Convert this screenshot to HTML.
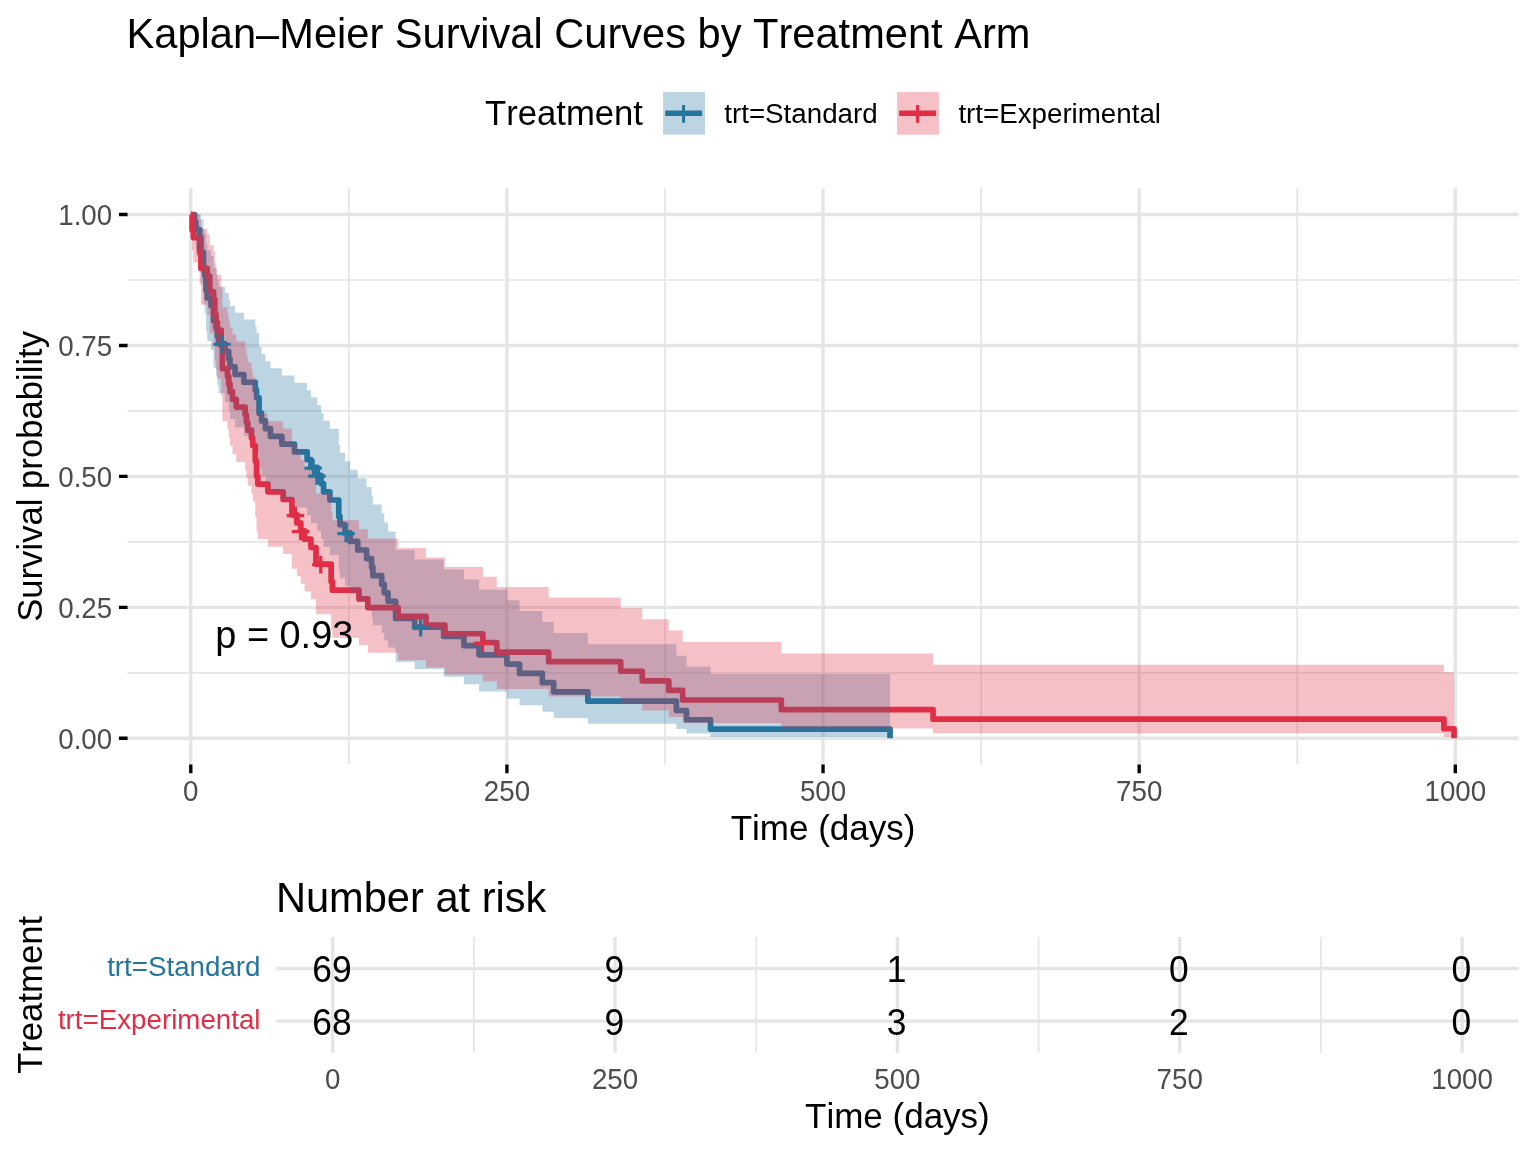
<!DOCTYPE html>
<html lang="en">
<head>
<meta charset="utf-8">
<title>Kaplan–Meier Survival Curves by Treatment Arm</title>
<style>html,body{margin:0;padding:0;background:#fff}body{width:1536px;height:1152px;overflow:hidden}svg{display:block}</style>
</head>
<body>
<svg width="1536" height="1152" viewBox="0 0 1536 1152" font-family='"Liberation Sans", Arial, Helvetica, sans-serif' style="font-kerning:none">
<rect width="1536" height="1152" fill="#fff"/>
<path d="M127.6 672.82H1518.6M127.6 541.88H1518.6M127.6 410.92H1518.6M127.6 279.98H1518.6M348.86 188.3V764.5M664.99 188.3V764.5M981.11 188.3V764.5M1297.24 188.3V764.5" stroke="#E5E5E5" stroke-width="1.68" fill="none"/>
<path d="M127.6 738.3H1518.6M127.6 607.35H1518.6M127.6 476.4H1518.6M127.6 345.45H1518.6M127.6 214.5H1518.6M190.8 188.3V764.5M506.93 188.3V764.5M823.05 188.3V764.5M1139.17 188.3V764.5M1455.3 188.3V764.5" stroke="#E5E5E5" stroke-width="3.36" fill="none"/>
<path d="M190.8 214.5H194.59V222.09H195.86V229.68H199.65V237.27H200.92V252.46H203.45V267.64H204.71V275.23H205.97V290.41H207.24V298H211.03V305.6H213.56V320.78H216.09V328.37H217.35V335.96H218.62V343.55H222.41H224.94V351.29H228.74V359.03H230V366.77H235.06V374.51H243.91V382.25H255.29V389.99H256.55V397.73H259.08V413.21H261.61V420.95H265.41V428.69H270.46V436.43H281.84V444.17H294.49V451.91H307.13V459.65H310.93V467.39H313.46H317.25V475.36H321.04V483.58H323.57V491.8H329.89V500.01H338.75V516.45H340.01V524.66H345.07V532.88H346.33H350.13V541.44H357.71V550H366.57V558.56H371.62V567.12H372.89V575.68H381.74V584.24H384.27V592.79H388.06V601.35H395.65V618.47H414.62V627.03H420.94H443.7V636.3H463.93V645.58H479.11V654.85H506.93V664.12H519.57V673.39H542.33V682.67H553.71V691.94H587.85V701.21H676.37V710.48H686.48V719.76H710.51V729.03H890.07V738.3" stroke="#25759E" stroke-width="5.69" fill="none" stroke-linejoin="round"/>
<path d="M190.8 214.5H192.06V229.91H193.33V237.61H199.65V253.01H200.92V268.42H207.24V276.12H209.77V291.53H213.56V299.23H214.83V314.64H216.09V322.34H217.35V330.04H221.15V345.45H222.41V368.56H227.47V376.26H228.74V383.96H230V391.67H232.53V399.37H236.32V407.07H245.17V414.78H246.44V422.48H247.7V430.18H251.5V437.89H252.76V445.59H255.29V460.99H256.55V476.4H257.82V484.1H267.93V491.81H283.11V499.51H291.96V514.91H295.75H297.02V522.89H300.81V530.87H304.61V539.17H310.93V547.47H315.99V564.06H321.04H331.16V581.48H332.42V590.2H358.98V598.91H367.83V607.62H398.18V616.33H426V625.04H444.96V633.76H482.9V642.47H496.81V652.05H548.65V661.63H620.73V671.22H642.23V680.8H668.78V690.38H682.69V699.97H781.32V709.55H933.06V719.13H1443.92V728.72H1454.04V738.3" stroke="#E12D45" stroke-width="5.69" fill="none" stroke-linejoin="round"/>
<path d="M190.8 214.5H194.59H195.86H199.65H200.92V219.33H203.45V228.8H204.71V233.92H205.97V244.72H207.24V250.36H211.03V256.12H213.56V268H216.09V274.09H217.35V280.27H218.62V286.54H222.41H224.94V292.96H228.74V299.47H230V306.06H235.06V312.72H243.91V319.45H255.29V326.25H256.55V333.11H259.08V347.03H261.61V354.07H265.41V361.18H270.46V368.34H281.84V375.56H294.49V382.83H307.13V390.16H310.93V397.54H313.46H317.25V405.12H321.04V412.93H323.57V420.8H329.89V428.74H338.75V444.82H340.01V452.96H345.07V461.16H346.33H350.13V469.67H357.71V478.25H366.57V486.91H371.62V495.66H372.89V504.5H381.74V513.42H384.27V522.44H388.06V531.54H395.65V550.06H414.62V559.48H420.94H443.7V569.43H463.93V579.55H479.11V589.84H506.93V600.32H519.57V611H542.33V621.88H553.71V632.98H587.85V644.27H676.37V655.66H686.48V666.68H710.51V674.06H890.07V736.96H710.51V733.5H686.48V728.94H676.37V723.67H587.85V717.89H553.71V711.71H542.33V705.21H519.57V698.42H506.93V691.39H479.11V684.14H463.93V676.69H443.7V669.07H420.94H414.62V662.02H395.65V647.59H388.06V640.22H384.27V632.75H381.74V625.18H372.89V617.53H371.62V609.78H366.57V601.95H357.71V594.04H350.13V586.04H346.33H345.07V578.35H340.01V570.59H338.75V554.88H329.89V546.92H323.57V538.89H321.04V530.8H317.25V522.93H313.46H310.93V515.28H307.13V507.57H294.49V499.81H281.84V492H270.46V484.12H265.41V476.19H261.61V468.2H259.08V452.05H256.55V443.87H255.29V435.64H243.91V427.33H235.06V418.96H230V410.51H228.74V401.98H224.94V393.37H222.41H218.62V384.88H217.35V376.31H216.09V367.64H213.56V349.99H211.03V341H207.24V331.87H205.97V313.16H204.71V303.51H203.45V283.46H200.92V261.85H199.65V250H195.86V236.65H194.59V214.5H190.8Z" fill="#25759E" fill-opacity="0.3"/>
<path d="M190.8 214.5H192.06H193.33H199.65V219.41H200.92V229.02H207.24V234.22H209.77V245.19H213.56V250.91H214.83V262.74H216.09V268.83H217.35V275.02H221.15V287.67H222.41V307.25H227.47V313.92H228.74V320.66H230V327.47H232.53V334.33H236.32V341.26H245.17V348.25H246.44V355.29H247.7V362.39H251.5V369.55H252.76V376.76H255.29V391.34H256.55V406.13H257.82V413.6H267.93V421.13H283.11V428.71H291.96V444.02H295.75H297.02V451.95H300.81V459.93H304.61V468.2H310.93V476.53H315.99V493.43H321.04H331.16V511.2H332.42V520.23H358.98V529.36H367.83V538.6H398.18V547.95H426V557.42H444.96V567H482.9V576.71H496.81V587.03H548.65V597.56H620.73V608.31H642.23V619.3H668.78V630.52H682.69V641.97H781.32V653.53H933.06V664.72H1443.92V672.18H1454.04V736.91H1443.92V733.31H933.06V728.55H781.32V723.05H682.69V717H668.78V710.52H642.23V703.68H620.73V696.54H548.65V689.12H496.81V681.46H482.9V674.5H444.96V667.39H426V660.15H398.18V652.78H367.83V645.3H358.98V637.71H332.42V630.02H331.16V614.32H321.04H315.99V599.18H310.93V591.49H304.61V583.73H300.81V576.26H297.02V568.73H295.75H291.96V554.12H283.11V546.73H267.93V539.29H257.82V531.8H256.55V516.66H255.29V501.31H252.76V493.56H251.5V485.75H247.7V477.88H246.44V469.96H245.17V461.98H236.32V453.94H232.53V445.84H230V437.67H228.74V429.44H227.47V421.15H222.41V395.82H221.15V378.54H217.35V369.75H216.09V360.87H214.83V342.76H213.56V333.52H209.77V314.54H207.24V304.77H200.92V284.44H199.65V262.53H193.33V250.51H192.06V214.5H190.8Z" fill="#E12D45" fill-opacity="0.3"/>
<path d="M213.36 344.25h17.5M222.11 335.5v17.5M304.41 468.09h17.5M313.16 459.34v17.5M308.2 476.06h17.5M316.95 467.31v17.5M337.28 533.58h17.5M346.03 524.83v17.5M411.89 627.73h17.5M420.64 618.98v17.5" stroke="#25759E" stroke-width="3.2" fill="none"/>
<path d="M286.7 515.61h17.5M295.45 506.86v17.5M291.76 531.57h17.5M300.51 522.82v17.5M311.99 564.76h17.5M320.74 556.01v17.5M473.85 643.17h17.5M482.6 634.42v17.5" stroke="#E12D45" stroke-width="3.2" fill="none"/>
<text x="215.3" y="647.5" font-size="37.9" fill="#000">p = 0.93</text>
<path d="M118.93 738.3H127.6M118.93 607.35H127.6M118.93 476.4H127.6M118.93 345.45H127.6M118.93 214.5H127.6M190.8 764.5V773.17M506.93 764.5V773.17M823.05 764.5V773.17M1139.17 764.5V773.17M1455.3 764.5V773.17" stroke="#000" stroke-width="3.36" fill="none"/>
<text transform="translate(112.2 748.9) scale(1 1.04)" font-size="27.73" fill="#4D4D4D" text-anchor="end">0.00</text>
<text transform="translate(112.2 617.95) scale(1 1.04)" font-size="27.73" fill="#4D4D4D" text-anchor="end">0.25</text>
<text transform="translate(112.2 487) scale(1 1.04)" font-size="27.73" fill="#4D4D4D" text-anchor="end">0.50</text>
<text transform="translate(112.2 356.05) scale(1 1.04)" font-size="27.73" fill="#4D4D4D" text-anchor="end">0.75</text>
<text transform="translate(112.2 225.1) scale(1 1.04)" font-size="27.73" fill="#4D4D4D" text-anchor="end">1.00</text>
<text transform="translate(190.8 801.2) scale(1 1.04)" font-size="27.73" fill="#4D4D4D" text-anchor="middle">0</text>
<text transform="translate(506.93 801.2) scale(1 1.04)" font-size="27.73" fill="#4D4D4D" text-anchor="middle">250</text>
<text transform="translate(823.05 801.2) scale(1 1.04)" font-size="27.73" fill="#4D4D4D" text-anchor="middle">500</text>
<text transform="translate(1139.17 801.2) scale(1 1.04)" font-size="27.73" fill="#4D4D4D" text-anchor="middle">750</text>
<text transform="translate(1455.3 801.2) scale(1 1.04)" font-size="27.73" fill="#4D4D4D" text-anchor="middle">1000</text>
<text x="823.1" y="839.8" font-size="35" fill="#000" text-anchor="middle">Time (days)</text>
<text transform="translate(42.1 476.4) rotate(-90)" font-size="34.67" fill="#000" text-anchor="middle">Survival probability</text>
<text x="126.6" y="48.4" font-size="41.6" fill="#000">Kaplan–Meier Survival Curves by Treatment Arm</text>
<text x="485" y="125" font-size="34.67" fill="#000">Treatment</text>
<path d="M665.22 113.25H702.12" stroke="#25759E" stroke-width="5.5"/><rect x="663.07" y="92.03" width="41.9" height="42.7" fill="#25759E" fill-opacity="0.3"/><path d="M674.77 113.9h17.6M683.57 105.1v17.6" stroke="#25759E" stroke-width="3.1"/>
<text x="724.3" y="123.4" font-size="27.73" fill="#000">trt=Standard</text>
<path d="M899.18 113.25H936.08" stroke="#E12D45" stroke-width="5.5"/><rect x="897.03" y="92.03" width="41.9" height="42.7" fill="#E12D45" fill-opacity="0.3"/><path d="M908.73 113.9h17.6M917.53 105.1v17.6" stroke="#E12D45" stroke-width="3.1"/>
<text x="958.4" y="123.4" font-size="27.73" fill="#000">trt=Experimental</text>
<path d="M473.88 937.1V1052.7M756.22 937.1V1052.7M1038.58 937.1V1052.7M1320.92 937.1V1052.7" stroke="#E5E5E5" stroke-width="1.68" fill="none"/>
<path d="M276.2 968.5H1518.7M276.2 1021.1H1518.7M332.7 937.1V1052.7M615.05 937.1V1052.7M897.4 937.1V1052.7M1179.75 937.1V1052.7M1462.1 937.1V1052.7" stroke="#E5E5E5" stroke-width="3.36" fill="none"/>
<text x="275.9" y="912.3" font-size="41.6" fill="#000">Number at risk</text>
<text transform="translate(331.9 982.1) scale(1 1.03)" font-size="35.4" fill="#000" text-anchor="middle">69</text>
<text transform="translate(614.25 982.1) scale(1 1.03)" font-size="35.4" fill="#000" text-anchor="middle">9</text>
<text transform="translate(896.6 982.1) scale(1 1.03)" font-size="35.4" fill="#000" text-anchor="middle">1</text>
<text transform="translate(1178.95 982.1) scale(1 1.03)" font-size="35.4" fill="#000" text-anchor="middle">0</text>
<text transform="translate(1461.3 982.1) scale(1 1.03)" font-size="35.4" fill="#000" text-anchor="middle">0</text>
<text transform="translate(331.9 1034.7) scale(1 1.03)" font-size="35.4" fill="#000" text-anchor="middle">68</text>
<text transform="translate(614.25 1034.7) scale(1 1.03)" font-size="35.4" fill="#000" text-anchor="middle">9</text>
<text transform="translate(896.6 1034.7) scale(1 1.03)" font-size="35.4" fill="#000" text-anchor="middle">3</text>
<text transform="translate(1178.95 1034.7) scale(1 1.03)" font-size="35.4" fill="#000" text-anchor="middle">2</text>
<text transform="translate(1461.3 1034.7) scale(1 1.03)" font-size="35.4" fill="#000" text-anchor="middle">0</text>
<text x="260.5" y="976" font-size="27.73" fill="#25759E" text-anchor="end">trt=Standard</text>
<text x="260.5" y="1028.6" font-size="27.73" fill="#E12D45" text-anchor="end">trt=Experimental</text>
<text transform="translate(332.7 1089.2) scale(1 1.04)" font-size="27.73" fill="#4D4D4D" text-anchor="middle">0</text>
<text transform="translate(615.05 1089.2) scale(1 1.04)" font-size="27.73" fill="#4D4D4D" text-anchor="middle">250</text>
<text transform="translate(897.4 1089.2) scale(1 1.04)" font-size="27.73" fill="#4D4D4D" text-anchor="middle">500</text>
<text transform="translate(1179.75 1089.2) scale(1 1.04)" font-size="27.73" fill="#4D4D4D" text-anchor="middle">750</text>
<text transform="translate(1462.1 1089.2) scale(1 1.04)" font-size="27.73" fill="#4D4D4D" text-anchor="middle">1000</text>
<text x="897.4" y="1128" font-size="35" fill="#000" text-anchor="middle">Time (days)</text>
<text transform="translate(42 994.9) rotate(-90)" font-size="34.67" fill="#000" text-anchor="middle">Treatment</text>
</svg>
</body>
</html>
